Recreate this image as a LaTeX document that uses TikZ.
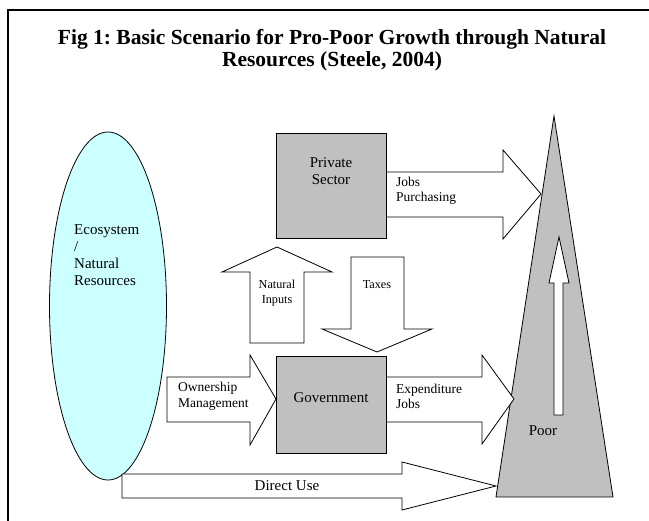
\documentclass[tikz,border=0pt]{standalone}
\usepackage{fontspec}
\setmainfont{Liberation Serif}
\frenchspacing
\definecolor{ecocyan}{HTML}{CCFFFF}
\definecolor{boxgray}{HTML}{C0C0C0}
\tikzset{
  outline/.style={draw=black, line width=0.8pt, line join=miter},
  blockarrow/.style={outline, fill=white},
  graybox/.style={outline, fill=boxgray, inner sep=0pt},
  lbl/.style={inner sep=0pt, align=left, font=\fontsize{13.5}{15.5}\selectfont},
  smalllbl/.style={inner sep=0pt, align=center, font=\fontsize{12.2}{15}\selectfont},
  biglbl/.style={inner sep=0pt, align=center, font=\fontsize{15}{17}\selectfont},
  titlelbl/.style={inner sep=0pt, align=center, font=\bfseries\fontsize{21.5}{22}\selectfont},
}
\begin{document}
\begin{tikzpicture}[x=1pt,y=-1pt]
\useasboundingbox (0,0) rectangle (649,521);
% frame
\draw[line width=1.3pt] (8,521) -- (8,10) -- (649,10);
% title
\node[titlelbl] (title) at (332,50) {\frenchspacing Fig 1: Basic Scenario for Pro-Poor Growth through Natural\\Resources (Steele, 2004)};

% ecosystem ellipse
\path[outline, fill=ecocyan] (108,306) ellipse [x radius=58.5, y radius=174];
\coordinate (eco) at (108,306);
\node[biglbl, align=left, anchor=west] (ecotext) at (74,255.5) {Ecosystem\\/\\Natural\\Resources};

% Direct use arrow
\draw[blockarrow] (122,474) -- (402,474) -- (402,462) -- (496,486) -- (402,510) -- (402,498) -- (122,498) -- cycle;
\node[biglbl] (direct) at (287,486) {Direct Use};

% Poor triangle
\draw[outline, fill=boxgray] (554,116) -- (613,497) -- (496,497) -- cycle;
\coordinate (poorapex) at (554,116);
\draw[blockarrow] (554,415) -- (554,283) -- (549,283) -- (559,237) -- (569,283) -- (563,283) -- (563,415) -- cycle;
\node[biglbl] (poor) at (543,431) {Poor};

% Natural inputs up arrow
\draw[blockarrow] (250,343) -- (250,272) -- (222,272) -- (277,247) -- (332,272) -- (304,272) -- (304,343) -- cycle;
\node[smalllbl] (natin) at (277,293.5) {Natural\\Inputs};

% Taxes down arrow
\draw[blockarrow] (351,257) -- (404,257) -- (404,329) -- (432,329) -- (377,352) -- (322,329) -- (351,329) -- cycle;
\node[smalllbl] (taxes) at (377,285) {Taxes};

% Jobs purchasing arrow
\draw[blockarrow] (386,172) -- (503,172) -- (503,150) -- (541,194) -- (503,239) -- (503,217) -- (386,217);
\node[lbl, anchor=west] (jobs) at (396,191) {Jobs\\Purchasing};

% Ownership arrow
\draw[blockarrow] (167,377) -- (250,377) -- (250,355) -- (276,399) -- (250,445) -- (250,422) -- (167,422) -- cycle;
\node[lbl, anchor=west] (own) at (178,396.5) {Ownership\\Management};

% Expenditure arrow
\draw[blockarrow] (386,377) -- (482,377) -- (482,355) -- (514,399) -- (482,444) -- (482,422) -- (386,422);
\node[lbl, anchor=west] (exp) at (396,396.5) {Expenditure\\Jobs};

% Boxes
\draw[graybox] (276,133) rectangle (386,238);
\coordinate (private) at (331,185.5);
\node[biglbl] (privtext) at (331,171.5) {Private\\Sector};
\draw[graybox] (276,356) rectangle (386,453);
\node[biglbl] (gov) at (331,398) {Government};
\end{tikzpicture}
\end{document}
